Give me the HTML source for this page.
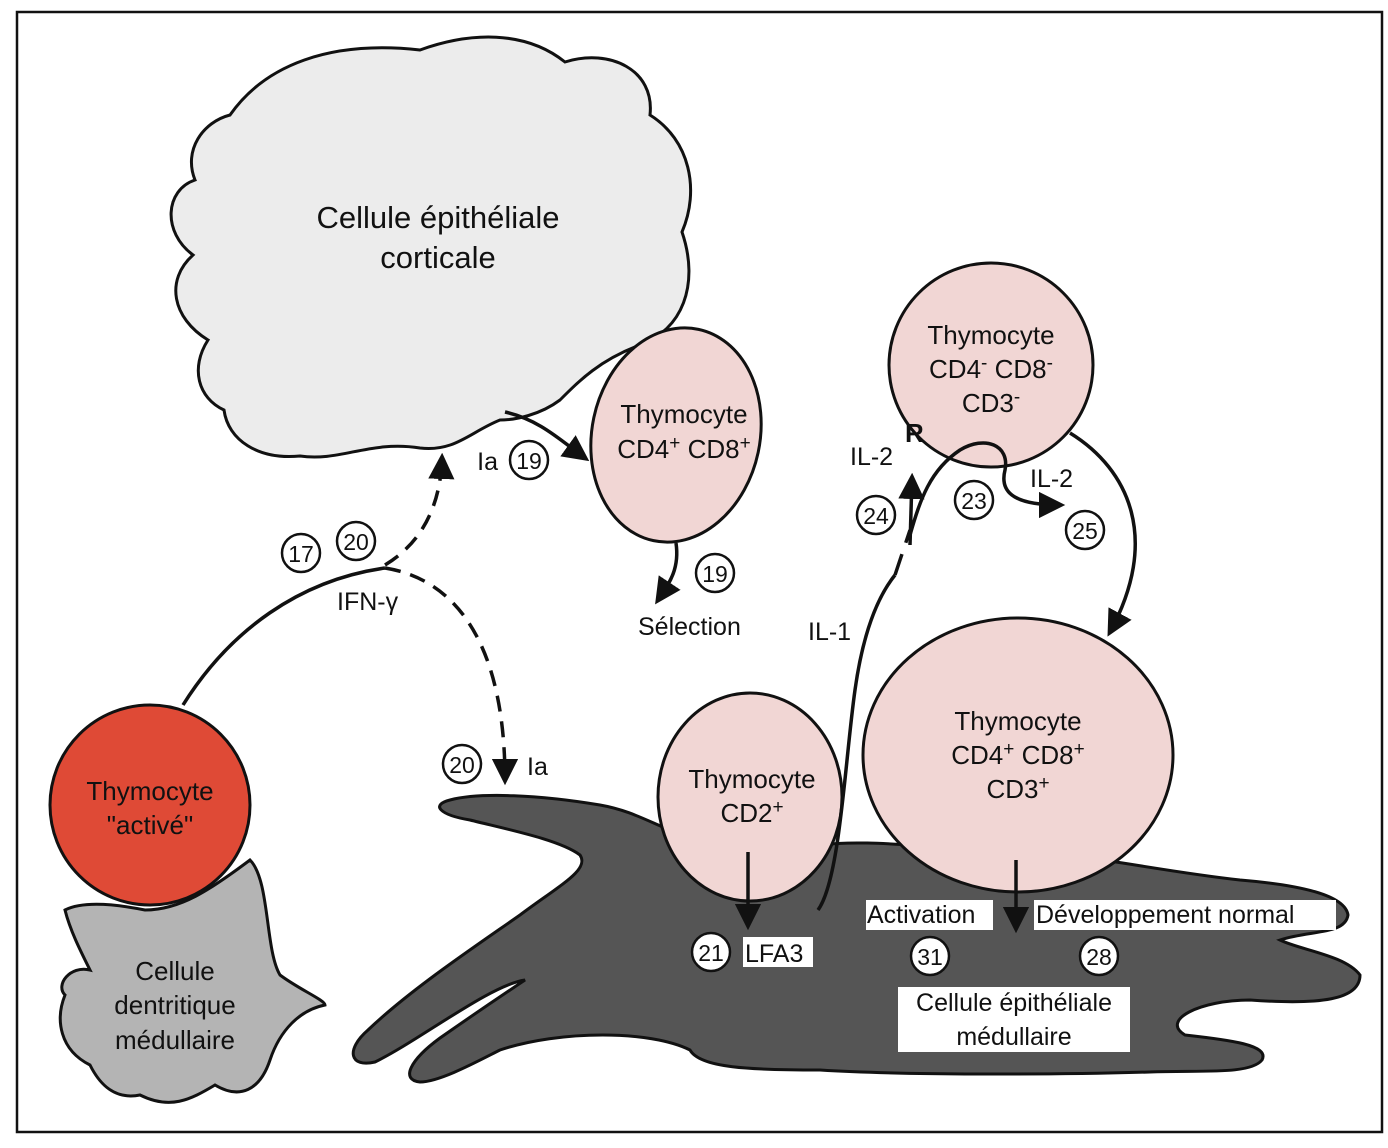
<!DOCTYPE html>
<html><head><meta charset="utf-8"><style>
html,body{margin:0;padding:0;background:#fff}
svg{display:block}
text{font-family:"Liberation Sans",sans-serif;fill:#111}
</style></head><body>
<svg width="1388" height="1148" viewBox="0 0 1388 1148">
<defs>
<marker id="ah" viewBox="0 0 10 10" refX="8" refY="5" markerWidth="7.5" markerHeight="7.5" orient="auto"><path d="M0,0 L10,5 L0,10 z" fill="#111"/></marker>
</defs>
<rect x="17" y="12" width="1365" height="1120" fill="#fff" stroke="#111" stroke-width="2.5"/>

<!-- cortical epithelial cell -->
<path d="M230,115 C265,65 330,40 420,50 C470,32 525,30 565,62 C610,48 655,70 650,115 C690,140 700,190 682,232 C700,285 682,330 640,345 C600,360 580,380 560,400 C540,415 515,420 500,420 C470,432 455,452 420,448 C370,440 340,462 300,456 C258,460 228,440 224,410 C198,398 190,368 208,340 C172,318 165,280 193,255 C162,232 165,190 195,180 C183,150 203,122 230,115 Z" fill="#ececec" stroke="#111" stroke-width="3"/>
<text x="438" y="228" font-size="31" text-anchor="middle">Cellule épithéliale</text>
<text x="438" y="268" font-size="31" text-anchor="middle">corticale</text>

<!-- dark medullary cell -->
<path d="M450,800 C480,792 540,795 600,805 C640,812 660,830 700,840 L820,845 C860,840 900,845 1000,850 C1080,852 1150,870 1240,880 C1300,885 1345,895 1348,915 C1345,935 1310,930 1280,940 C1300,950 1345,955 1360,975 C1360,1000 1320,1005 1250,1000 C1200,1000 1160,1020 1185,1035 C1230,1040 1270,1045 1262,1060 C1250,1075 1200,1070 1150,1072 C1050,1075 900,1075 820,1070 C750,1070 700,1068 690,1050 C650,1030 560,1030 500,1050 C480,1060 440,1082 420,1082 C400,1080 410,1060 440,1038 C480,1010 510,990 525,980 C490,985 420,1040 375,1062 C350,1068 345,1050 368,1030 C410,990 470,950 520,915 C560,885 590,870 580,855 C560,840 510,830 470,820 C440,815 430,805 450,800 Z" fill="#555" stroke="#111" stroke-width="3"/>

<!-- dendritic cell -->
<path d="M250,860 C270,880 265,950 280,975 C300,990 325,1000 325,1005 C300,1010 280,1030 270,1060 C260,1090 240,1100 215,1085 C190,1100 170,1110 140,1095 C115,1100 100,1085 90,1065 C60,1050 55,1020 65,995 C55,985 70,965 90,970 C80,950 70,930 65,910 C85,900 120,905 145,910 C180,910 210,890 250,860 Z" fill="#b4b4b4" stroke="#111" stroke-width="3"/>
<text x="175" y="980" font-size="26" text-anchor="middle">Cellule</text>
<text x="175" y="1014" font-size="26" text-anchor="middle">dentritique</text>
<text x="175" y="1049" font-size="26" text-anchor="middle">médullaire</text>

<!-- activated thymocyte -->
<circle cx="150" cy="805" r="100" fill="#df4a36" stroke="#111" stroke-width="3"/>
<text x="150" y="800" font-size="26" text-anchor="middle">Thymocyte</text>
<text x="150" y="834" font-size="26" text-anchor="middle">"activé"</text>

<!-- CD4+CD8+ selection thymocyte -->
<ellipse cx="676" cy="435" rx="84" ry="108" transform="rotate(12 676 435)" fill="#f1d6d4" stroke="#111" stroke-width="3"/>
<text x="684" y="423" font-size="26" text-anchor="middle">Thymocyte</text>
<text x="684" y="458" font-size="26" text-anchor="middle">CD4<tspan dy="-9" font-size="19">+</tspan><tspan dy="9"> CD8</tspan><tspan dy="-9" font-size="19">+</tspan></text>

<!-- top right thymocyte -->
<circle cx="991" cy="365" r="102" fill="#f1d6d4" stroke="#111" stroke-width="3"/>
<text x="991" y="344" font-size="26" text-anchor="middle">Thymocyte</text>
<text x="991" y="378" font-size="26" text-anchor="middle">CD4<tspan dy="-9" font-size="19">-</tspan><tspan dy="9"> CD8</tspan><tspan dy="-9" font-size="19">-</tspan></text>
<text x="991" y="412" font-size="26" text-anchor="middle">CD3<tspan dy="-9" font-size="19">-</tspan></text>

<!-- CD2 thymocyte -->
<ellipse cx="750" cy="797" rx="92" ry="104" fill="#f1d6d4" stroke="#111" stroke-width="3"/>
<text x="752" y="788" font-size="26" text-anchor="middle">Thymocyte</text>
<text x="752" y="822" font-size="26" text-anchor="middle">CD2<tspan dy="-9" font-size="19">+</tspan></text>

<!-- big thymocyte -->
<ellipse cx="1018" cy="755" rx="155" ry="137" fill="#f1d6d4" stroke="#111" stroke-width="3"/>
<text x="1018" y="730" font-size="26" text-anchor="middle">Thymocyte</text>
<text x="1018" y="764" font-size="26" text-anchor="middle">CD4<tspan dy="-9" font-size="19">+</tspan><tspan dy="9"> CD8</tspan><tspan dy="-9" font-size="19">+</tspan></text>
<text x="1018" y="798" font-size="26" text-anchor="middle">CD3<tspan dy="-9" font-size="19">+</tspan></text>

<!-- connectors -->
<g fill="none" stroke="#111" stroke-width="3.5">
<path d="M183,705 C230,630 300,580 385,568"/>
<path d="M385,565 C410,550 440,520 442,458" stroke-dasharray="16,10" marker-end="url(#ah)"/>
<path d="M385,568 C460,580 505,650 505,780" stroke-dasharray="16,10" marker-end="url(#ah)"/>
<path d="M505,412 C540,420 560,440 585,458" marker-end="url(#ah)"/>
<path d="M676,543 C680,570 668,585 658,600" marker-end="url(#ah)"/>
<path d="M748,852 L748,925" marker-end="url(#ah)"/>
<path d="M1016,860 L1016,928" marker-end="url(#ah)"/>
<path d="M818,910 C840,880 845,760 855,690 C862,640 875,600 895,575"/>
<path d="M895,575 L910,530" stroke-dasharray="22,12"/>
<path d="M910,535 C920,500 930,470 960,450 C985,435 1010,445 1005,470 C1000,490 1010,505 1060,505" marker-end="url(#ah)"/>
<path d="M910,545 L912,478" marker-end="url(#ah)"/>
<path d="M1070,433 C1130,470 1160,540 1110,632" marker-end="url(#ah)"/>
</g>

<!-- labels -->
<g font-size="25">
<text x="498" y="470" text-anchor="end">Ia</text>
<text x="337" y="610">IFN-γ</text>
<text x="527" y="775">Ia</text>
<text x="638" y="635">Sélection</text>
<text x="808" y="640">IL-1</text>
<text x="850" y="465">IL-2</text>
<text x="1030" y="487">IL-2</text>
<text x="905" y="442" font-weight="bold" font-size="26">R</text>
</g>

<g font-size="23" text-anchor="middle">
<circle cx="301" cy="553" r="19" fill="#fff" stroke="#111" stroke-width="2.5"/><text x="301" y="562">17</text>
<circle cx="356" cy="541" r="19" fill="#fff" stroke="#111" stroke-width="2.5"/><text x="356" y="550">20</text>
<circle cx="529" cy="460" r="19" fill="#fff" stroke="#111" stroke-width="2.5"/><text x="529" y="469">19</text>
<circle cx="715" cy="573" r="19" fill="#fff" stroke="#111" stroke-width="2.5"/><text x="715" y="582">19</text>
<circle cx="462" cy="764" r="19" fill="#fff" stroke="#111" stroke-width="2.5"/><text x="462" y="773">20</text>
<circle cx="876" cy="515" r="19" fill="#fff" stroke="#111" stroke-width="2.5"/><text x="876" y="524">24</text>
<circle cx="974" cy="500" r="19" fill="#fff" stroke="#111" stroke-width="2.5"/><text x="974" y="509">23</text>
<circle cx="1085" cy="530" r="19" fill="#fff" stroke="#111" stroke-width="2.5"/><text x="1085" y="539">25</text>
<circle cx="711" cy="952" r="19" fill="#fff" stroke="#111" stroke-width="2.5"/><text x="711" y="961">21</text>
<circle cx="930" cy="956" r="19" fill="#fff" stroke="#111" stroke-width="2.5"/><text x="930" y="965">31</text>
<circle cx="1099" cy="956" r="19" fill="#fff" stroke="#111" stroke-width="2.5"/><text x="1099" y="965">28</text>
</g>

<!-- white label boxes on dark cell -->
<g font-size="25">
<rect x="743" y="937" width="70" height="30" fill="#fff"/><text x="745" y="962">LFA3</text>
<rect x="866" y="900" width="127" height="30" fill="#fff"/><text x="867" y="923">Activation</text>
<rect x="1034" y="900" width="302" height="30" fill="#fff"/><text x="1036" y="923">Développement normal</text>
<rect x="898" y="987" width="232" height="65" fill="#fff"/>
<text x="1014" y="1011" text-anchor="middle">Cellule épithéliale</text>
<text x="1014" y="1045" text-anchor="middle">médullaire</text>
</g>
</svg>
</body></html>
